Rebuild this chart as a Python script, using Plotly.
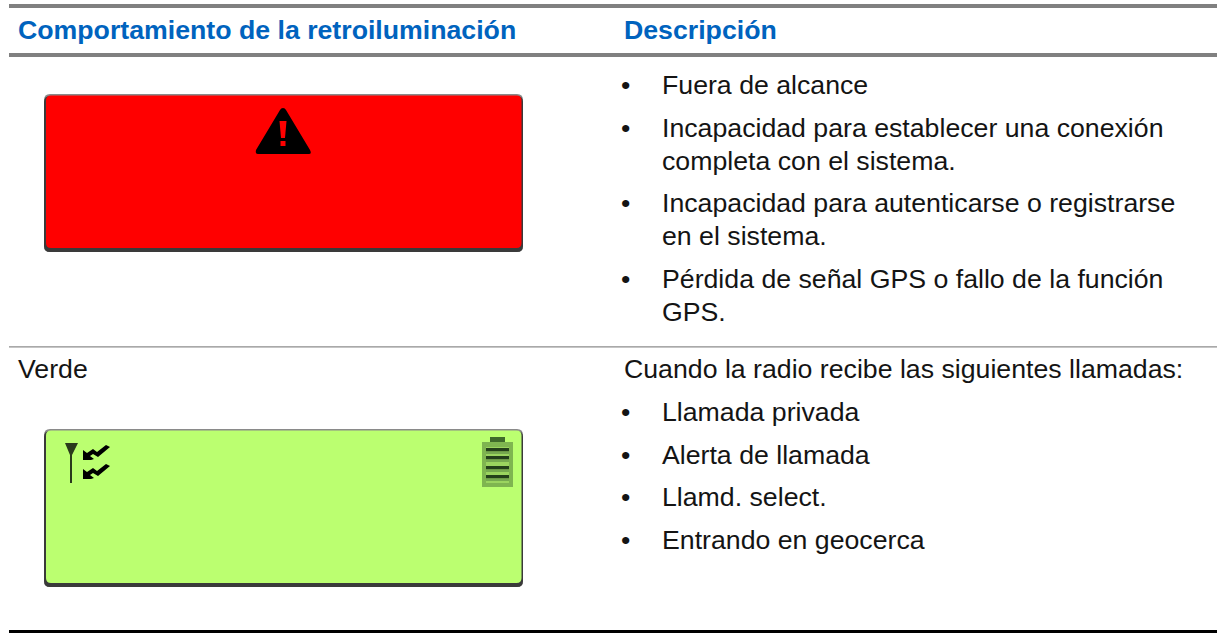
import plotly.graph_objects as go

W, H = 1217, 633
INK = "#141414"
BLUE = "#0063be"

headers = ["Comportamiento de la retroiluminación", "Descripción"]
row_labels = ["Verde"]
desc_lines_row1 = [
    ["Fuera de alcance"],
    ["Incapacidad para establecer una conexión", "completa con el sistema."],
    ["Incapacidad para autenticarse o registrarse", "en el sistema."],
    ["Pérdida de señal GPS o fallo de la función", "GPS."],
]
intro_row2 = "Cuando la radio recibe las siguientes llamadas:"
desc_lines_row2 = [
    ["Llamada privada"],
    ["Alerta de llamada"],
    ["Llamd. select."],
    ["Entrando en geocerca"],
]
red_fill = "#ff0000"
green_fill = "#bbff70"


def rrect(x0, y0, x1, y1, r):
    return (f"M{x0+r},{y0} L{x1-r},{y0} Q{x1},{y0} {x1},{y0+r} L{x1},{y1-r} Q{x1},{y1} {x1-r},{y1} "
            f"L{x0+r},{y1} Q{x0},{y1} {x0},{y1-r} L{x0},{y0+r} Q{x0},{y0} {x0+r},{y0} Z")


shapes = []


def rect(x0, y0, x1, y1, c):
    shapes.append(dict(type="rect", x0=x0, y0=y0, x1=x1, y1=y1, fillcolor=c, line_width=0, layer="above"))


def path(d, fill, line=None, lw=0):
    shapes.append(dict(type="path", path=d, fillcolor=fill, line=dict(color=line or fill, width=lw), layer="above"))


def panel(y0, y1, fill):
    x0, x1 = 44, 523
    path(rrect(x0, y0, x1, y1, 6), "#8a8a8a")
    path(rrect(x0, y0 + 2, x1, y1, 6), "#3a3a3a")
    path(rrect(x0 + 2, y0 + 1.5, x1 - 1.5, y1 - 4, 5), fill)


# rules
rect(9, 4, W, 8, "#808080")
rect(9, 53, W, 57, "#808080")
rect(9, 346.2, W, 347.4, "#8c8c8c")
rect(9, 630, W, 633, "#000000")

# red panel
panel(94, 252, red_fill)
path("M283,108 Q285,108 286,110 L310,150 Q312,154 309,154 L258,154 Q255,154 256,150 L280,110 Q281,108 283,108 Z", "#000000")
path("M279.5,121 L286.5,121 L285,138 L281,138 Z", red_fill)
rect(280.5, 141, 285.5, 146, red_fill)

# green panel
panel(429, 587, green_fill)
path("M65,443 L78,443 L72,455 L72,483 L70,483 L70,455 Z", "#2a3a1c")
for dy in (0, 19):
    path(f"M83,{450+dy} L87,{453+dy} L93,{449+dy} L97,{452+dy} L106,{445+dy} L110,{447+dy} L98,{457+dy} "
         f"L93,{454+dy} L90,{456+dy} L94,{459+dy} L91,{460+dy} L83,{460+dy} Z", "#000000")
rect(490, 437, 505, 442, "#3f6a2a")
rect(482, 442, 513, 487, "#7fb550")
rect(486, 447, 509, 483, "#9bd45f")
for y in (448, 456, 466, 475):
    rect(486, y, 509, y + 3.5, "#24401a")
    rect(486, y + 3.5, 509, y + 6, "#76a94f")

ann = []


def text(x, y, s, bold=False, color=INK, size=26.7):
    ann.append(dict(x=x - 2, y=y, text=f"<b>{s}</b>" if bold else s, showarrow=False, xanchor="left", yanchor="middle",
                    xref="x", yref="y", align="left", font=dict(family="Liberation Sans", size=size, color=color)))


text(17.5, 29.5, headers[0], bold=True, color=BLUE, size=26.7)
text(624, 29.5, headers[1], bold=True, color=BLUE, size=26.7)

y_row1 = [84.5, 127.5, 202.5, 278.5]
for y, lines in zip(y_row1, desc_lines_row1):
    text(621, y, "•")
    for i, ln in enumerate(lines):
        text(662, y + i * 33, ln)

text(17.5, 369, row_labels[0])
text(624, 369, intro_row2)
y_row2 = [412, 455, 497, 540]
for y, lines in zip(y_row2, desc_lines_row2):
    text(621, y, "•")
    text(662, y, lines[0])

fig = go.Figure()
fig.update_layout(
    width=W, height=H, margin=dict(l=0, r=0, t=0, b=0), showlegend=False,
    paper_bgcolor="white", plot_bgcolor="white",
    xaxis=dict(range=[0, W], visible=False, fixedrange=True),
    yaxis=dict(range=[H, 0], visible=False, fixedrange=True),
    shapes=shapes, annotations=ann,
)
fig.write_html("out.html", config={"displayModeBar": False},
               post_script="document.body.style.margin='0';")
